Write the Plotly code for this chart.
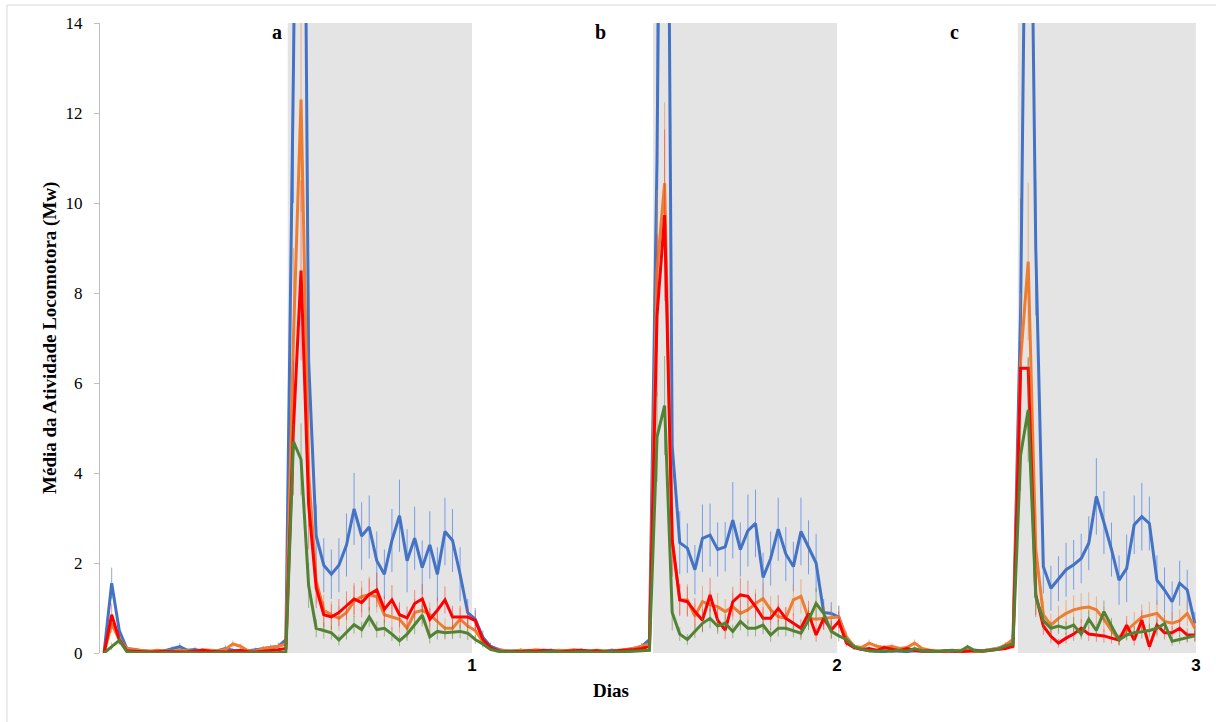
import plotly.graph_objects as go

# Time axis: 30-minute bins over three days (145 samples, expressed in days)
n_bins = 145
bins_per_day = 48

# Mean locomotor activity per group (Mw)
blue_vals = [
    0.02, 1.55, 0.5, 0.1, 0.08, 0.05, 0.04, 0.03, 0.05, 0.09, 0.14, 0.06, 0.08, 0.04, 0.03, 0.05, 0.1, 0.06, 0.04, 0.05, 0.07, 0.1, 0.12, 0.15, 0.3,
    13.0, 29.0, 6.5, 2.6, 1.95, 1.75, 1.95, 2.4, 3.2, 2.6, 2.8, 2.05, 1.75, 2.5, 3.05, 2.05, 2.55, 1.9, 2.4, 1.75, 2.7, 2.5, 1.75, 0.9,
    0.75, 0.35, 0.15, 0.08, 0.05, 0.04, 0.06, 0.03, 0.05, 0.04, 0.06, 0.03, 0.05, 0.04, 0.06, 0.05, 0.03, 0.04, 0.06, 0.05, 0.07, 0.1, 0.15, 0.3,
    11.0, 30.0, 4.6, 2.45, 2.33, 1.85, 2.55, 2.62, 2.3, 2.36, 2.95, 2.3, 2.72, 2.88, 1.68, 2.1, 2.75, 2.2, 1.92, 2.7, 2.35, 2.0, 0.9, 0.88,
    0.8, 0.3, 0.14, 0.08, 0.05, 0.04, 0.03, 0.05, 0.04, 0.03, 0.05, 0.04, 0.03, 0.04, 0.05, 0.03, 0.04, 0.05, 0.06, 0.05, 0.07, 0.1, 0.15, 0.3,
    7.6, 23.0, 9.0, 1.92, 1.44, 1.65, 1.85, 1.96, 2.1, 2.44, 3.48, 2.9, 2.3, 1.62, 1.88, 2.85, 3.03, 2.88, 1.62, 1.4, 1.14, 1.55, 1.4, 0.66,
]
orange_vals = [
    0.0, 0.65, 0.3, 0.1, 0.07, 0.05, 0.04, 0.06, 0.05, 0.04, 0.06, 0.05, 0.04, 0.07, 0.06, 0.05, 0.08, 0.2, 0.15, 0.05, 0.04, 0.1, 0.12, 0.15, 0.2,
    7.0, 12.3, 4.0, 1.6, 0.95, 0.85, 0.77, 0.9, 1.15, 1.25, 1.3, 1.25, 0.85, 0.8, 0.75, 0.55, 0.9, 0.95, 0.85, 0.7, 0.55, 0.55, 0.75, 0.6,
    0.5, 0.25, 0.1, 0.06, 0.05, 0.04, 0.06, 0.05, 0.07, 0.05, 0.04, 0.06, 0.05, 0.07, 0.05, 0.04, 0.06, 0.05, 0.04, 0.06, 0.08, 0.1, 0.15, 0.2,
    8.5, 10.44, 2.5, 1.18, 1.18, 0.82, 1.14, 1.07, 1.03, 0.92, 1.03, 0.88, 0.96, 1.1, 1.21, 0.96, 0.81, 0.77, 1.18, 1.26, 0.77, 0.75, 0.77, 0.79,
    0.8, 0.36, 0.15, 0.12, 0.22, 0.15, 0.12, 0.15, 0.1, 0.12, 0.22, 0.1, 0.06, 0.05, 0.04, 0.05, 0.06, 0.05, 0.04, 0.05, 0.07, 0.1, 0.18, 0.3,
    6.5, 8.7, 2.3, 0.85, 0.62, 0.77, 0.88, 0.96, 1.0, 1.02, 0.96, 0.75, 0.5, 0.29, 0.5, 0.66, 0.8, 0.84, 0.88, 0.7, 0.66, 0.72, 0.88, 0.55,
]
red_vals = [
    0.0, 0.85, 0.3, 0.05, 0.04, 0.03, 0.02, 0.03, 0.04, 0.03, 0.02, 0.03, 0.05, 0.06, 0.04, 0.03, 0.02, 0.04, 0.06, 0.03, 0.02, 0.04, 0.05, 0.07, 0.1,
    5.0, 8.5, 3.3, 1.45, 0.85, 0.8, 0.9, 1.05, 1.2, 1.12, 1.3, 1.4, 0.97, 1.18, 0.85, 0.78, 1.1, 1.2, 0.75, 0.95, 1.18, 0.8, 0.8, 0.8,
    0.72, 0.3, 0.12, 0.05, 0.03, 0.04, 0.03, 0.05, 0.04, 0.06, 0.05, 0.03, 0.04, 0.05, 0.06, 0.04, 0.05, 0.03, 0.04, 0.05, 0.06, 0.08, 0.1, 0.15,
    7.5, 9.73, 2.5, 1.18, 1.14, 0.92, 0.73, 1.29, 0.73, 0.51, 1.14, 1.29, 1.26, 1.03, 0.77, 0.77, 0.99, 0.77, 0.66, 0.55, 0.88, 0.4, 0.77, 0.51,
    0.7, 0.22, 0.12, 0.08, 0.1, 0.06, 0.12, 0.08, 0.05, 0.1, 0.06, 0.04, 0.05, 0.03, 0.04, 0.05, 0.03, 0.04, 0.05, 0.04, 0.06, 0.08, 0.1, 0.15,
    6.33, 6.33, 1.3, 0.6, 0.37, 0.22, 0.33, 0.42, 0.55, 0.42, 0.4, 0.38, 0.33, 0.29, 0.62, 0.29, 0.73, 0.14, 0.62, 0.45, 0.45, 0.55, 0.4, 0.4,
]
green_vals = [
    0.0, 0.15, 0.28, 0.03, 0.01, 0.01, 0.0, 0.0, 0.01, 0.0, 0.0, 0.01, 0.0, 0.0, 0.0, 0.01, 0.0, 0.0, 0.0, 0.0, 0.0, 0.01, 0.0, 0.01, 0.02,
    4.7, 4.3, 1.5, 0.55, 0.5, 0.45, 0.29, 0.45, 0.63, 0.52, 0.8, 0.52, 0.55, 0.42, 0.27, 0.42, 0.62, 0.84, 0.36, 0.48, 0.45, 0.46, 0.48, 0.44,
    0.3, 0.2, 0.08, 0.04, 0.02, 0.02, 0.01, 0.02, 0.01, 0.02, 0.03, 0.02, 0.01, 0.02, 0.03, 0.02, 0.01, 0.02, 0.03, 0.02, 0.03, 0.04, 0.05, 0.06,
    4.8, 5.5, 0.9, 0.42, 0.3, 0.48, 0.66, 0.77, 0.6, 0.66, 0.48, 0.7, 0.55, 0.55, 0.62, 0.4, 0.55, 0.55, 0.5, 0.44, 0.73, 1.1, 0.88, 0.48,
    0.38, 0.3, 0.14, 0.08, 0.05, 0.04, 0.05, 0.04, 0.06, 0.04, 0.1, 0.05, 0.04, 0.03, 0.05, 0.06, 0.04, 0.14, 0.05, 0.04, 0.06, 0.08, 0.16, 0.2,
    4.4, 5.4, 1.25, 0.72, 0.55, 0.6, 0.55, 0.62, 0.42, 0.75, 0.5, 0.92, 0.6, 0.29, 0.4, 0.45, 0.47, 0.5, 0.55, 0.65, 0.26, 0.3, 0.35, 0.38,
]

# Standard errors (symmetric)
blue_err = [
    0.0, 0.35, 0.15, 0.05, 0.04, 0.03, 0.03, 0.02, 0.04, 0.06, 0.08, 0.04, 0.05, 0.03, 0.02, 0.04, 0.07, 0.04, 0.03, 0.04, 0.05, 0.06, 0.07, 0.08, 0.12,
    3.0, 4.0, 1.5, 0.7, 0.6, 0.55, 0.6, 0.7, 0.8, 0.75, 0.7, 0.65, 0.55, 0.7, 0.8, 0.7, 0.7, 0.6, 0.75, 0.6, 0.75, 0.7, 0.6, 0.3,
    0.25, 0.15, 0.08, 0.05, 0.03, 0.03, 0.04, 0.02, 0.03, 0.03, 0.04, 0.02, 0.03, 0.03, 0.04, 0.03, 0.02, 0.03, 0.04, 0.03, 0.04, 0.05, 0.07, 0.12,
    3.0, 4.0, 1.2, 0.7, 0.55, 0.55, 0.75, 0.7, 0.6, 0.55, 0.85, 0.6, 0.8, 0.75, 0.55, 0.6, 0.7, 0.6, 0.55, 0.75, 0.6, 0.65, 0.3, 0.25,
    0.25, 0.12, 0.06, 0.04, 0.03, 0.02, 0.02, 0.03, 0.02, 0.02, 0.03, 0.02, 0.02, 0.02, 0.03, 0.02, 0.02, 0.03, 0.04, 0.03, 0.04, 0.05, 0.07, 0.12,
    2.5, 4.0, 1.5, 0.6, 0.5, 0.5, 0.6, 0.55, 0.55, 0.6, 0.85, 0.7, 0.6, 0.55, 0.75, 0.65, 0.75, 0.6, 0.55, 0.5, 0.45, 0.5, 0.45, 0.25,
]
orange_err = [
    0.0, 0.2, 0.1, 0.04, 0.03, 0.02, 0.02, 0.03, 0.02, 0.02, 0.03, 0.02, 0.02, 0.03, 0.03, 0.02, 0.04, 0.08, 0.06, 0.02, 0.02, 0.04, 0.05, 0.06, 0.08,
    2.0, 2.5, 1.2, 0.5, 0.35, 0.3, 0.28, 0.3, 0.35, 0.35, 0.4, 0.35, 0.3, 0.28, 0.3, 0.22, 0.3, 0.3, 0.28, 0.25, 0.22, 0.2, 0.25, 0.2,
    0.18, 0.1, 0.05, 0.03, 0.02, 0.02, 0.03, 0.02, 0.03, 0.02, 0.02, 0.03, 0.02, 0.03, 0.02, 0.02, 0.03, 0.02, 0.02, 0.03, 0.03, 0.04, 0.06, 0.08,
    1.8, 1.8, 0.8, 0.35, 0.35, 0.28, 0.35, 0.3, 0.3, 0.28, 0.3, 0.28, 0.3, 0.32, 0.35, 0.3, 0.28, 0.25, 0.35, 0.38, 0.25, 0.25, 0.25, 0.25,
    0.25, 0.12, 0.06, 0.05, 0.08, 0.06, 0.05, 0.06, 0.04, 0.05, 0.08, 0.04, 0.03, 0.02, 0.02, 0.02, 0.03, 0.02, 0.02, 0.02, 0.03, 0.04, 0.06, 0.1,
    1.5, 1.75, 0.8, 0.3, 0.25, 0.28, 0.3, 0.32, 0.33, 0.33, 0.3, 0.28, 0.2, 0.12, 0.2, 0.25, 0.28, 0.3, 0.3, 0.25, 0.25, 0.25, 0.28, 0.2,
]
red_err = [
    0.0, 0.25, 0.1, 0.03, 0.02, 0.02, 0.01, 0.02, 0.02, 0.02, 0.01, 0.02, 0.02, 0.03, 0.02, 0.02, 0.01, 0.02, 0.03, 0.02, 0.01, 0.02, 0.03, 0.03, 0.05,
    1.5, 2.0, 1.0, 0.45, 0.3, 0.28, 0.3, 0.32, 0.35, 0.33, 0.35, 0.38, 0.3, 0.33, 0.28, 0.25, 0.3, 0.33, 0.25, 0.28, 0.3, 0.25, 0.25, 0.25,
    0.22, 0.1, 0.05, 0.02, 0.02, 0.02, 0.02, 0.02, 0.02, 0.03, 0.02, 0.02, 0.02, 0.02, 0.03, 0.02, 0.02, 0.02, 0.02, 0.02, 0.03, 0.03, 0.04, 0.06,
    1.8, 1.9, 0.8, 0.35, 0.33, 0.3, 0.25, 0.38, 0.25, 0.2, 0.33, 0.38, 0.35, 0.3, 0.25, 0.25, 0.3, 0.25, 0.22, 0.2, 0.28, 0.15, 0.25, 0.2,
    0.22, 0.08, 0.05, 0.03, 0.04, 0.03, 0.05, 0.03, 0.02, 0.04, 0.03, 0.02, 0.02, 0.02, 0.02, 0.02, 0.02, 0.02, 0.02, 0.02, 0.03, 0.03, 0.04, 0.06,
    0.6, 0.25, 0.5, 0.2, 0.15, 0.1, 0.12, 0.15, 0.2, 0.15, 0.15, 0.15, 0.12, 0.12, 0.2, 0.12, 0.22, 0.08, 0.2, 0.15, 0.15, 0.18, 0.15, 0.15,
]
green_err = [
    0.0, 0.08, 0.1, 0.02, 0.01, 0.01, 0.0, 0.0, 0.01, 0.0, 0.0, 0.01, 0.0, 0.0, 0.0, 0.01, 0.0, 0.0, 0.0, 0.0, 0.0, 0.01, 0.0, 0.01, 0.01,
    0.4, 0.8, 0.5, 0.2, 0.18, 0.15, 0.12, 0.15, 0.2, 0.18, 0.22, 0.18, 0.18, 0.15, 0.12, 0.15, 0.2, 0.25, 0.15, 0.18, 0.15, 0.15, 0.15, 0.15,
    0.1, 0.08, 0.04, 0.02, 0.01, 0.01, 0.01, 0.01, 0.01, 0.01, 0.01, 0.01, 0.01, 0.01, 0.01, 0.01, 0.01, 0.01, 0.01, 0.01, 0.01, 0.02, 0.02, 0.03,
    1.0, 1.1, 0.4, 0.15, 0.12, 0.15, 0.2, 0.22, 0.18, 0.2, 0.15, 0.2, 0.18, 0.18, 0.2, 0.15, 0.18, 0.18, 0.15, 0.15, 0.22, 0.35, 0.25, 0.15,
    0.12, 0.1, 0.06, 0.03, 0.02, 0.02, 0.02, 0.02, 0.02, 0.02, 0.04, 0.02, 0.02, 0.01, 0.02, 0.02, 0.02, 0.05, 0.02, 0.02, 0.02, 0.03, 0.05, 0.06,
    0.8, 1.15, 0.4, 0.2, 0.15, 0.18, 0.15, 0.18, 0.12, 0.2, 0.15, 0.25, 0.18, 0.1, 0.12, 0.15, 0.15, 0.15, 0.18, 0.2, 0.1, 0.1, 0.12, 0.12,
]

# Dark phases (days) and their day labels
dark_start = [0.505, 1.51, 2.513]
dark_end = [1.012, 2.016, 3.003]
day_labels = ["1", "2", "3"]
panel_labels = ["a", "b", "c"]
panel_x = [0.4755, 1.3666, 2.340]

days = [k / bins_per_day for k in range(n_bins)]

series = [
    (blue_vals, blue_err, "#4472C4", "rgba(30,100,235,0.55)"),
    (orange_vals, orange_err, "#ED7D31", "rgba(240,130,60,0.55)"),
    (red_vals, red_err, "#FF0000", "rgba(255,40,40,0.5)"),
    (green_vals, green_err, "#548235", "rgba(84,140,50,0.55)"),
]

fig = go.Figure()
for vals, err, col, ecol in series:
    fig.add_trace(go.Scatter(
        x=days, y=vals, mode="lines",
        line=dict(color=col, width=3),
        error_y=dict(type="data", array=err, visible=True,
                     color=ecol, thickness=1, width=0),
        showlegend=False, hoverinfo="skip",
    ))

# Grey shading for the dark phase of each day
for x0, x1 in zip(dark_start, dark_end):
    fig.add_shape(type="rect", xref="x", yref="y", x0=x0, x1=x1, y0=0, y1=14,
                  fillcolor="#E4E4E4", line=dict(width=0), layer="below")

# Panel letters
for lbl, px in zip(panel_labels, panel_x):
    fig.add_annotation(x=px, y=0.9857, xref="x", yref="paper", text=lbl,
                       showarrow=False, xanchor="center", yanchor="middle",
                       font=dict(family="Liberation Serif", size=20, color="black", weight="bold"))

# Axis titles
fig.add_annotation(x=-0.0456, y=0.5, xref="paper", yref="paper",
                   text="Média da Atividade Locomotora (Mw)", textangle=-90,
                   showarrow=False, xanchor="center", yanchor="middle",
                   font=dict(family="Liberation Serif", size=19, color="black", weight="bold"))
fig.add_annotation(x=0.4658, y=-0.0603, xref="paper", yref="paper", text="Dias",
                   showarrow=False, xanchor="center", yanchor="middle",
                   font=dict(family="Liberation Serif", size=19, color="black", weight="bold"))

# Chart-area border (top and left edges)
fig.add_shape(type="line", xref="paper", yref="paper", x0=-0.0848, x1=1.05,
              y0=1.0286, y1=1.0286, line=dict(color="#D9D9D9", width=1))
fig.add_shape(type="line", xref="paper", yref="paper", x0=-0.0848, x1=-0.0848,
              y0=1.0286, y1=-0.2, line=dict(color="#D9D9D9", width=1))

fig.update_layout(
    width=1216, height=722,
    margin=dict(l=100, r=19, t=23, b=69),
    paper_bgcolor="white", plot_bgcolor="white",
    xaxis=dict(range=[-0.0113, 3.006], showgrid=False, zeroline=False, showline=False,
               ticks="", tickvals=dark_end, ticktext=day_labels,
               tickfont=dict(family="Liberation Sans", size=17, color="black", weight="bold")),
    yaxis=dict(range=[0, 14], dtick=2, showgrid=False, zeroline=False,
               showline=True, linecolor="#BFBFBF", linewidth=1,
               ticks="outside", ticklen=5, tickcolor="#BFBFBF", ticklabelstandoff=8,
               tickfont=dict(family="Liberation Serif", size=17, color="black")),
)

fig.write_html("out.html")
